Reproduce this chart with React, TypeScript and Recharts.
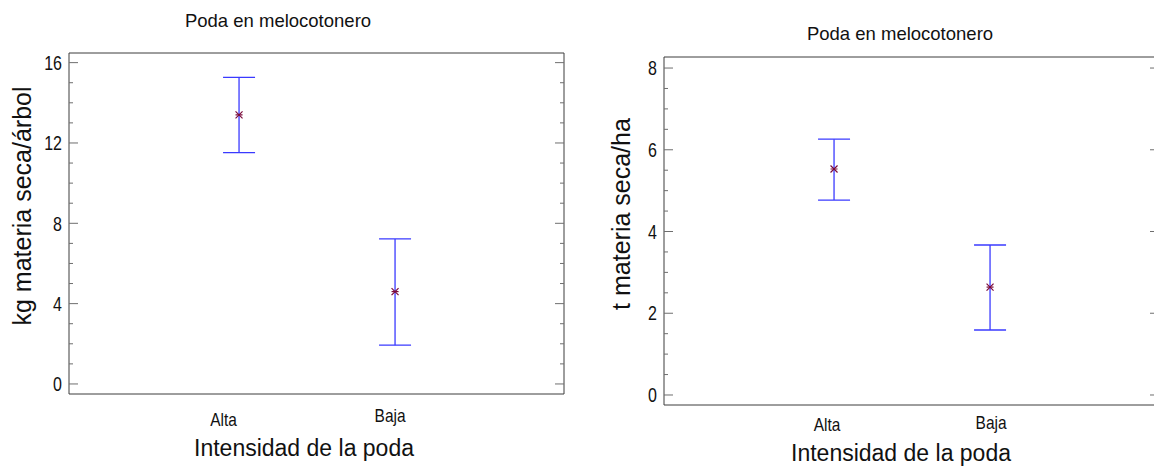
import React from "react";
import {
  ScatterChart,
  Scatter,
  XAxis,
  YAxis,
  ErrorBar,
} from "recharts";

const categories = ["Alta", "Baja"];

// kg materia seca/árbol
const kgMeans = [13.4, 4.6];
const kgLower = [11.52, 1.93];
const kgUpper = [15.27, 7.22];
const kgTicks = [0, 1, 2, 3, 4, 5, 6, 7, 8, 9, 10, 11, 12, 13, 14, 15, 16];

// t materia seca/ha
const tMeans = [5.53, 2.64];
const tLower = [4.77, 1.59];
const tUpper = [6.26, 3.67];
const tTicks = [0, 0.5, 1, 1.5, 2, 2.5, 3, 3.5, 4, 4.5, 5, 5.5, 6, 6.5, 7, 7.5, 8];

const TITLE = "Poda en melocotonero";
const XTITLE = "Intensidad de la poda";

const BORDER = "#3c3c3c";
const TICK = "#6e6e6e";
const BLUE = "#3a3aff";
const STAR = "#7a0a3a";
const SANS = "'Liberation Sans', Arial, sans-serif";
const Y_MARGIN = 7;

function buildData(means: number[], lower: number[], upper: number[]) {
  return categories.map((name, i) => ({
    x: i + 1,
    y: means[i],
    err: [means[i] - lower[i], upper[i] - means[i]],
    name,
  }));
}

function Asterisk(props: any) {
  const { cx, cy } = props;
  const r = 3.5;
  return (
    <g stroke={STAR} strokeWidth={1.2}>
      <line x1={cx - r} y1={cy - r} x2={cx + r} y2={cy + r} />
      <line x1={cx - r} y1={cy + r} x2={cx + r} y2={cy - r} />
      <line x1={cx - r} y1={cy} x2={cx + r} y2={cy} />
    </g>
  );
}

// condensed text: regular face squeezed horizontally
function Squeezed({ x, y, size, sx, anchor, children }: any) {
  return (
    <text
      transform={`translate(${x},${y}) scale(${sx},1)`}
      x={0}
      y={0}
      dy="0.36em"
      textAnchor={anchor}
      fontSize={size}
      fontFamily={SANS}
      fill="#111"
    >
      {children}
    </text>
  );
}

function leftTick(majorStep: number) {
  return (props: any) => {
    const { x, y, payload } = props;
    const v = payload.value;
    const major = Math.abs(v / majorStep - Math.round(v / majorStep)) < 1e-6;
    const ax = x + Y_MARGIN;
    return (
      <g>
        <line x1={ax} x2={ax + (major ? 9 : 4)} y1={y} y2={y} stroke={TICK} />
        {major && (
          <Squeezed x={x} y={y} size={20} sx={0.8} anchor="end">
            {v}
          </Squeezed>
        )}
      </g>
    );
  };
}

function rightTick(majorStep: number) {
  return (props: any) => {
    const { x, y, payload } = props;
    const v = payload.value;
    const major = Math.abs(v / majorStep - Math.round(v / majorStep)) < 1e-6;
    const ax = x - Y_MARGIN;
    return (
      <line x1={ax - (major ? 9 : 4)} x2={ax} y1={y} y2={y} stroke={TICK} />
    );
  };
}

function catTick(offsets: { dx: number; dy: number }[]) {
  return (props: any) => {
    const { x, y, payload } = props;
    const i = payload.value - 1;
    const o = offsets[i] || { dx: 0, dy: 20 };
    return (
      <Squeezed x={x + o.dx} y={y + o.dy} size={18} sx={0.86} anchor="middle">
        {categories[i]}
      </Squeezed>
    );
  };
}

function Txt({
  cx,
  cy,
  size,
  rotate,
  children,
}: {
  cx: number;
  cy: number;
  size: number;
  rotate?: boolean;
  children: React.ReactNode;
}) {
  return (
    <div
      style={{
        position: "absolute",
        left: cx,
        top: cy,
        transform: `translate(-50%, -50%)${rotate ? " rotate(-90deg)" : ""}`,
        fontFamily: SANS,
        fontSize: size,
        lineHeight: 1,
        whiteSpace: "nowrap",
        color: "#111",
      }}
    >
      {children}
    </div>
  );
}

interface PanelProps {
  left: number;
  width: number;
  margin: { top: number; right: number; bottom: number; left: number };
  yDomain: [number, number];
  ticks: number[];
  majorStep: number;
  data: { x: number; y: number; err: number[]; name: string }[];
  offsets: { dx: number; dy: number }[];
}

function Panel({ left, width, margin, yDomain, ticks, majorStep, data, offsets }: PanelProps) {
  return (
    <div style={{ position: "absolute", left, top: 0, width, height: 468 }}>
      <ScatterChart width={width} height={468} margin={margin}>
        <XAxis
          type="number"
          dataKey="x"
          domain={[-0.09, 3.083]}
          ticks={[1, 2]}
          height={1}
          tickSize={0}
          tickMargin={0}
          tickLine={false}
          axisLine={{ stroke: BORDER }}
          tick={catTick(offsets)}
          interval={0}
        />
        <XAxis
          xAxisId="top"
          orientation="top"
          type="number"
          dataKey="x"
          domain={[-0.09, 3.083]}
          height={1}
          tick={false}
          tickLine={false}
          axisLine={{ stroke: BORDER }}
        />
        <YAxis
          type="number"
          dataKey="y"
          domain={yDomain}
          ticks={ticks}
          width={1}
          tickSize={0}
          tickMargin={Y_MARGIN}
          tickLine={false}
          axisLine={{ stroke: BORDER }}
          tick={leftTick(majorStep)}
          interval={0}
          allowDataOverflow
        />
        <YAxis
          yAxisId="r"
          orientation="right"
          type="number"
          domain={yDomain}
          ticks={ticks}
          width={1}
          tickSize={0}
          tickMargin={Y_MARGIN}
          tickLine={false}
          axisLine={{ stroke: BORDER }}
          tick={rightTick(majorStep)}
          interval={0}
          allowDataOverflow
        />
        <Scatter data={data} shape={Asterisk} isAnimationActive={false}>
          <ErrorBar
            dataKey="err"
            direction="y"
            width={16}
            stroke={BLUE}
            strokeWidth={1.3}
            isAnimationActive={false}
          />
        </Scatter>
      </ScatterChart>
    </div>
  );
}

export default function App() {
  const kgData = buildData(kgMeans, kgLower, kgUpper);
  const tData = buildData(tMeans, tLower, tUpper);

  return (
    <div
      style={{
        position: "absolute",
        left: 0,
        top: 0,
        width: 1154,
        height: 468,
        overflow: "hidden",
        background: "#fff",
      }}
    >
      <Panel
        left={0}
        width={580}
        margin={{ top: 52, right: 15, bottom: 73, left: 68 }}
        yDomain={[-0.5, 16.48]}
        ticks={kgTicks}
        majorStep={4}
        data={kgData}
        offsets={[
          { dx: -15.5, dy: 26 },
          { dx: -5, dy: 22 },
        ]}
      />
      <Panel
        left={590}
        width={600}
        margin={{ top: 56, right: 30, bottom: 62, left: 73 }}
        yDomain={[-0.245, 8.27]}
        ticks={tTicks}
        majorStep={2}
        data={tData}
        offsets={[
          { dx: -7, dy: 20 },
          { dx: 1, dy: 18 },
        ]}
      />
      <Txt cx={278} cy={21} size={18.5}>{TITLE}</Txt>
      <Txt cx={22} cy={206} size={25} rotate>kg materia seca/árbol</Txt>
      <Txt cx={304} cy={448} size={23}>{XTITLE}</Txt>
      <Txt cx={900} cy={34} size={18.5}>{TITLE}</Txt>
      <Txt cx={621} cy={214} size={25} rotate>t materia seca/ha</Txt>
      <Txt cx={901} cy={453} size={23}>{XTITLE}</Txt>
    </div>
  );
}
